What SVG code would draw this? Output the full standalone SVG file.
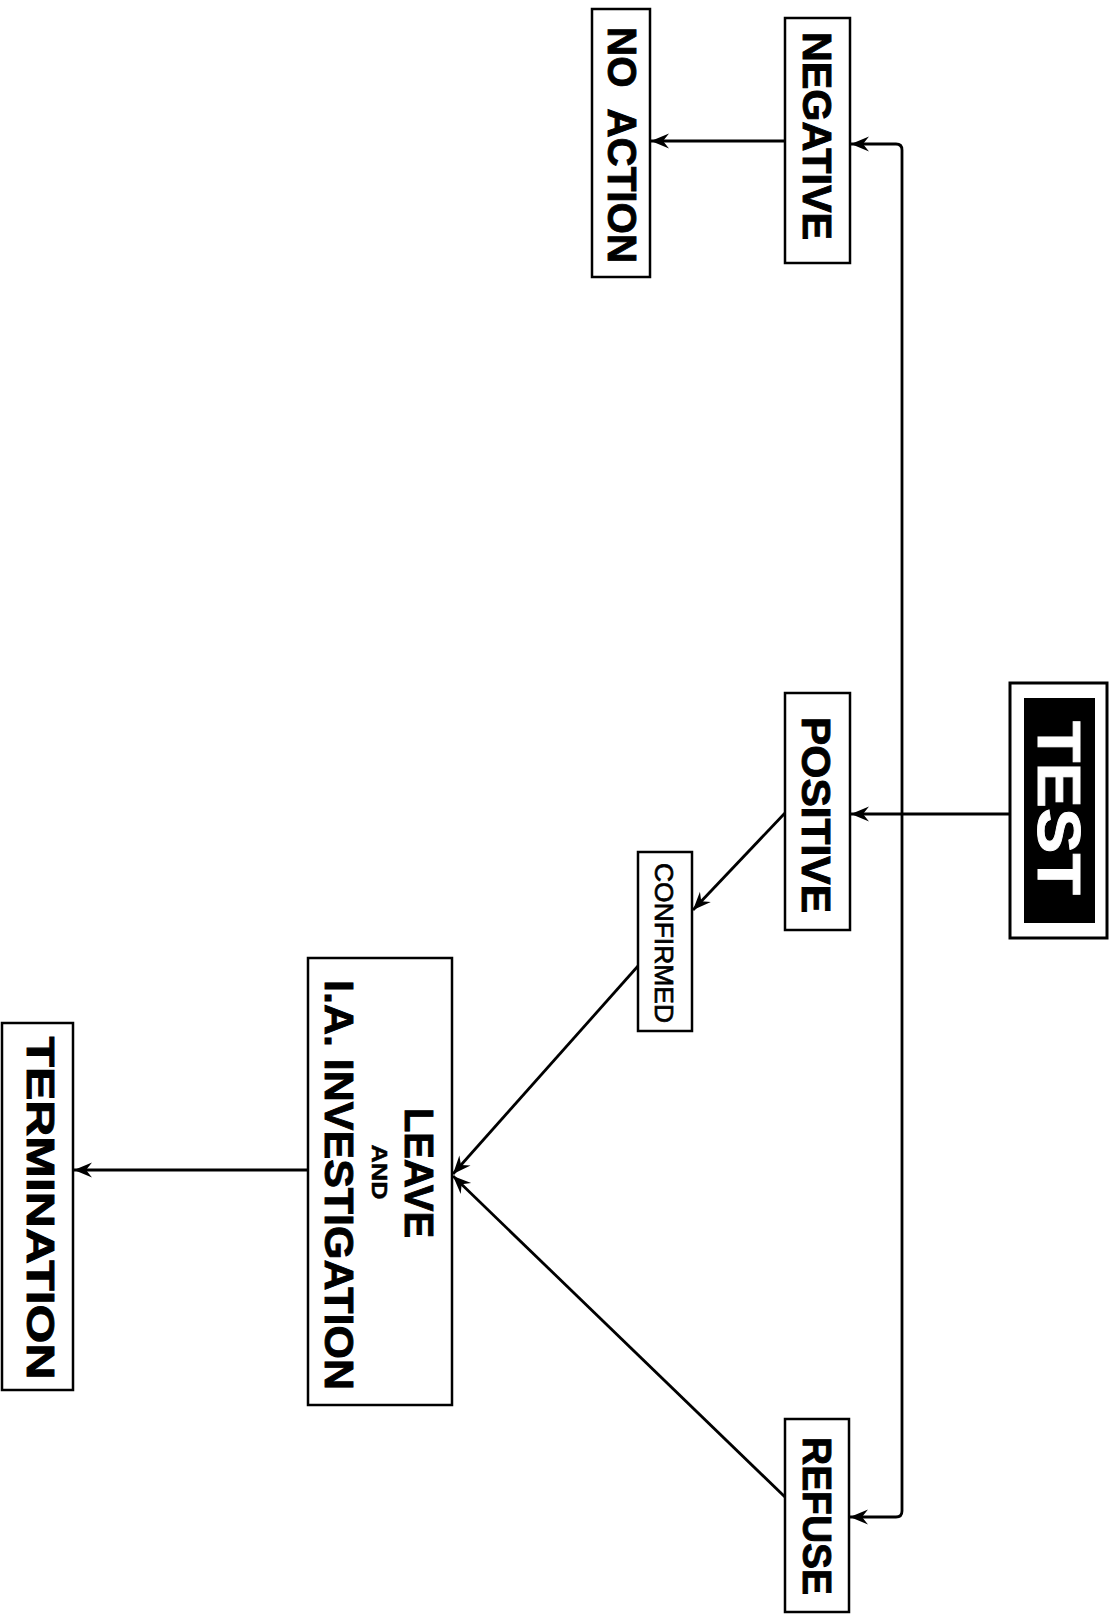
<svg xmlns="http://www.w3.org/2000/svg" width="1113" height="1614" viewBox="0 0 1113 1614">
<defs>
<style>
.box{fill:#fff;stroke:#000;stroke-width:2.5}
.t{font-family:"Liberation Sans",Arial,Helvetica,sans-serif;font-weight:bold;font-size:40px;fill:#000;stroke:#000;stroke-width:0.9;text-anchor:middle}
.c{fill:none;stroke:#000;stroke-width:2.8}
</style>
<marker id="ah" markerUnits="userSpaceOnUse" markerWidth="24" markerHeight="18" viewBox="-19 -9 21 18" refX="0" refY="0" orient="auto">
<path d="M0,0 L-18,-7.5 L-12,0 L-18,7.5 Z" fill="#000"/>
</marker>
</defs>
<rect width="1113" height="1614" fill="#fff"/>
<g id="connectors">
<path class="c" d="M1009,814 L851,814" marker-end="url(#ah)"/>
<path class="c" d="M902,814 L902,150 Q902,144 896,144 L851,144" marker-end="url(#ah)"/>
<path class="c" d="M902,814 L902,1511 Q902,1517 896,1517 L850,1517" marker-end="url(#ah)"/>
<path class="c" d="M785,141 L651,141" marker-end="url(#ah)"/>
<path class="c" d="M785,813 L693,910" marker-end="url(#ah)"/>
<path class="c" d="M638,966 L453,1174" marker-end="url(#ah)"/>
<path class="c" d="M785,1497 L453,1176" marker-end="url(#ah)"/>
<path class="c" d="M308,1170 L74,1170" marker-end="url(#ah)"/>
</g>
<g id="test">
<rect x="1010" y="683" width="97" height="255" fill="#fff" stroke="#000" stroke-width="3"/>
<rect x="1024" y="698" width="71" height="225" fill="#000"/>
<text class="t" transform="translate(1038,808) rotate(90)" style="font-size:62px;fill:#fff;stroke:#fff" textLength="174" lengthAdjust="spacingAndGlyphs">TEST</text>
</g>
<g id="negative">
<rect class="box" x="785" y="18" width="65" height="245"/>
<text class="t" transform="translate(803,136) rotate(90)" textLength="208" lengthAdjust="spacingAndGlyphs">NEGATIVE</text>
</g>
<g id="no-action">
<rect class="box" x="592" y="9" width="58" height="268"/>
<text class="t" transform="translate(608,145) rotate(90)" style="white-space:pre" textLength="236" lengthAdjust="spacingAndGlyphs">NO  ACTION</text>
</g>
<g id="positive">
<rect class="box" x="785" y="693" width="65" height="237"/>
<text class="t" transform="translate(802,815) rotate(90)" textLength="196" lengthAdjust="spacingAndGlyphs">POSITIVE</text>
</g>
<g id="confirmed">
<rect class="box" x="638" y="852" width="54" height="179"/>
<text class="t" transform="translate(655,943) rotate(90)" style="font-size:26px;font-weight:normal;stroke-width:0.7" textLength="160" lengthAdjust="spacingAndGlyphs">CONFIRMED</text>
</g>
<g id="leave">
<rect class="box" x="308" y="958" width="144" height="447"/>
<text class="t" transform="translate(405,1173) rotate(90)" textLength="130" lengthAdjust="spacingAndGlyphs">LEAVE</text>
<text class="t" transform="translate(372,1172) rotate(90)" style="font-size:22px;stroke-width:0.5" textLength="55" lengthAdjust="spacingAndGlyphs">AND</text>
<text class="t" transform="translate(325,1185) rotate(90)" textLength="410" lengthAdjust="spacingAndGlyphs">I.A. INVESTIGATION</text>
</g>
<g id="termination">
<rect class="box" x="2" y="1023" width="71" height="367"/>
<text class="t" transform="translate(27,1208) rotate(90)" style="font-size:38px" textLength="343" lengthAdjust="spacingAndGlyphs">TERMINATION</text>
</g>
<g id="refuse">
<rect class="box" x="785" y="1419" width="64" height="193"/>
<text class="t" transform="translate(803,1516) rotate(90)" textLength="158" lengthAdjust="spacingAndGlyphs">REFUSE</text>
</g>
</svg>
